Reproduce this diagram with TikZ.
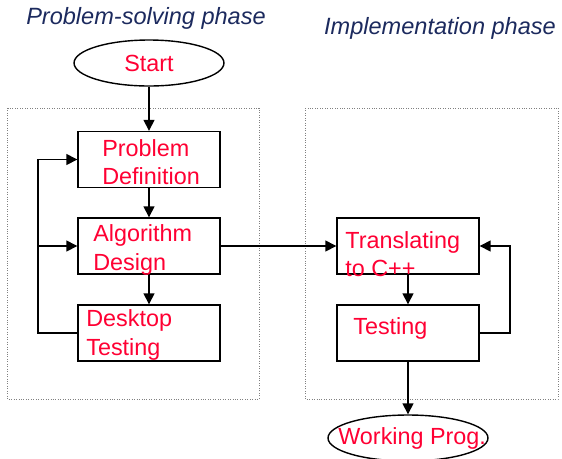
\documentclass[tikz,border=0pt]{standalone}
\usepackage{fontspec}
\setmainfont{Liberation Sans}
\usetikzlibrary{arrows.meta, positioning, shapes.geometric}
\definecolor{navy}{HTML}{1C2A5E}
\definecolor{redtxt}{HTML}{FF0033}
\tikzset{
  block/.style={rectangle, draw=black, thick, minimum width=2.84cm, minimum height=1.12cm, inner sep=0pt},
  terminal/.style={ellipse, draw=black, thick, minimum width=3cm, minimum height=0.92cm, inner sep=0pt,
    font=\fontsize{13.3}{16}\selectfont, text=redtxt},
  boxtext/.style={anchor=west, align=left, inner sep=0pt, font=\fontsize{13.3}{16}\selectfont, text=redtxt},
  phase/.style={font=\fontsize{13.4}{15}\selectfont\itshape, text=navy},
  region/.style={draw=gray, densely dotted},
  arrow/.style={-{Triangle[length=2.2mm, width=2.2mm]}, thick},
}
\begin{document}
\begin{tikzpicture}[x=0.02cm, y=-0.02cm]
\useasboundingbox (0,0) rectangle (562,458);
\draw[region] (7,108) rectangle (259,399);
\draw[region] (305,108) rectangle (558,399);

\node[phase] (psTitle) at (146,18) {Problem-solving phase};
\node[phase] (imTitle) at (440,28) {Implementation phase};

\node[terminal] (start) at (149,63) {Start};
\node[block] (pd) at (149,159.5) {};
\node[block] (ad) at (149,246) {};
\node[block] (dt) at (149,333) {};
\node[block] (tr) at (408,246) {};
\node[block] (te) at (408,333) {};
\node[terminal, minimum width=3.2cm] (wp) at (408,438) {};

\node[boxtext] (pdText) at (102,162) {Problem\\Definition};
\node[boxtext] (adText) at (93,250) {Algorithm\\Design};
\node[boxtext] (dtText) at (86,335) {Desktop\\Testing};
\node[boxtext] (trText) at (345,254) {Translating\\to C++};
\node[boxtext] (teText) at (353,328) {Testing};
\node[boxtext] (wpText) at (338,438) {Working Prog.};

\coordinate (fbL) at (38,333);
\coordinate (fbR) at (510,333);

\draw[arrow] (start) -- (pd);
\draw[arrow] (pd) -- (ad);
\draw[arrow] (ad) -- (dt);
\draw[arrow] (dt.west) -- (fbL) |- (pd.west);
\draw[arrow] (fbL |- ad.west) -- (ad.west);
\draw[arrow] (ad.east) -- (tr.west);
\draw[arrow] (tr) -- (te);
\draw[arrow] (te.east) -- (fbR) |- (tr.east);
\draw[arrow] (te) -- (wp);
\end{tikzpicture}
\end{document}
